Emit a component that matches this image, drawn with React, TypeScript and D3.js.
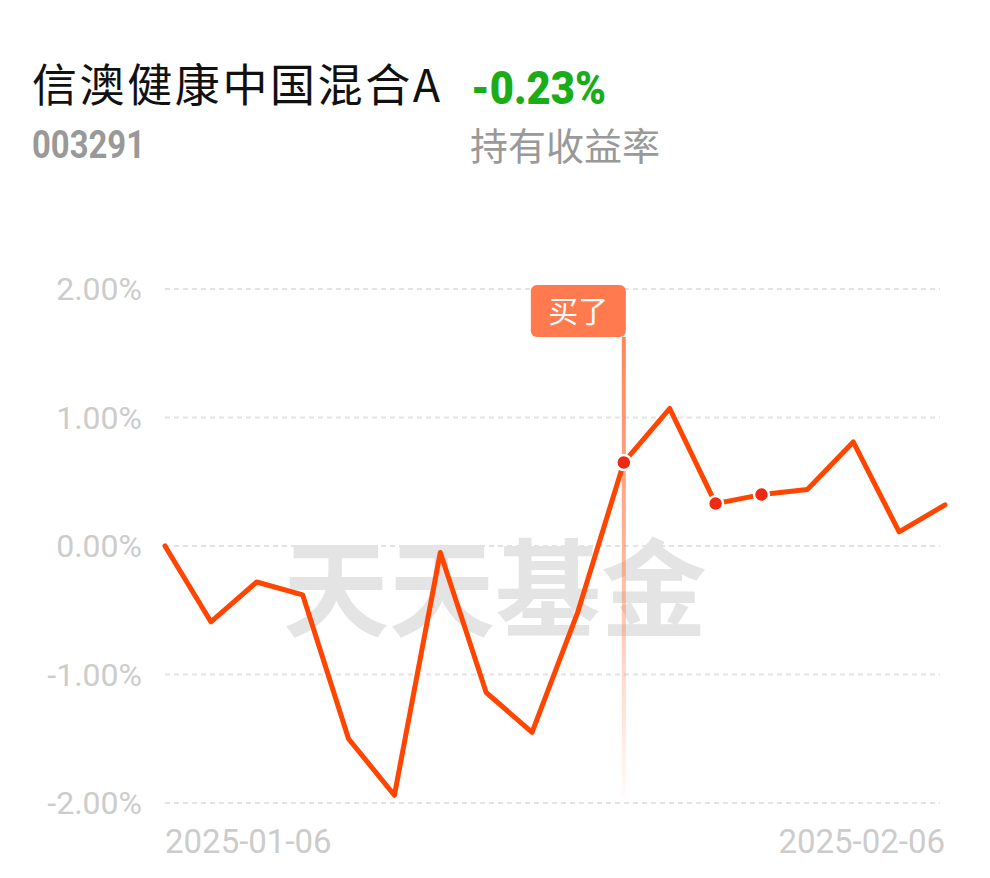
import React from "react";
import * as d3 from "d3";

const dates = [
  "2025-01-06", "2025-01-07", "2025-01-08", "2025-01-09", "2025-01-10",
  "2025-01-13", "2025-01-14", "2025-01-15", "2025-01-16", "2025-01-17",
  "2025-01-20", "2025-01-21", "2025-01-22", "2025-01-23", "2025-01-24",
  "2025-01-27", "2025-02-05", "2025-02-06",
];
const returns = [
  0.0, -0.59, -0.28, -0.38, -1.5, -1.94, -0.05, -1.14, -1.45, -0.51,
  0.65, 1.07, 0.33, 0.4, 0.44, 0.81, 0.11, 0.32,
];
const yTicks = [2, 1, 0, -1, -2];
const xTickLabels = ["2025-01-06", "2025-02-06"];
const buyDate = "2025-01-20";
const markerDates = ["2025-01-20", "2025-01-22", "2025-01-23"];

const fundName = "信澳健康中国混合A";
const fundCode = "003291";
const holdReturn = "-0.23%";
const holdLabel = "持有收益率";
const watermark = "天天基金";
const buyLabel = "买了";

const W = 990;
const H = 878;
const CJK = '"Noto Sans CJK SC", "Noto Sans", sans-serif';
const NUM = 'Roboto, "Noto Sans", sans-serif';

export default function App() {
  const x = d3.scalePoint<string>().domain(dates).range([165, 945]);
  const y = d3.scaleLinear().domain([-2, 2]).range([803, 289]);
  const line = d3
    .line<number>()
    .x((_, i) => x(dates[i]) as number)
    .y((d) => y(d));

  const buyX = x(buyDate) as number;
  const boxW = 95;
  const boxH = 52;
  const boxTop = y(2) - 4;

  return (
    <svg
      width={W}
      height={H}
      viewBox={`0 0 ${W} ${H}`}
      style={{ position: "absolute", left: 0, top: 0, background: "#fff" }}
    >
      <defs>
        <linearGradient id="buyGrad" x1="0" y1="0" x2="0" y2="1">
          <stop offset="0%" stopColor="#ff7f50" stopOpacity={0.95} />
          <stop offset="45%" stopColor="#ff7f50" stopOpacity={0.6} />
          <stop offset="100%" stopColor="#ff7f50" stopOpacity={0.03} />
        </linearGradient>
      </defs>

      {/* header */}
      <text x={32} y={102} fontFamily={CJK} fontSize={45} letterSpacing={2.6} fill="#111">
        {fundName}
      </text>
      <text
        x={471}
        y={104}
        fontFamily={NUM}
        fontWeight={900}
        fontSize={47}
        fill="#1aad19"
        textLength={135}
        lengthAdjust="spacingAndGlyphs"
      >
        {holdReturn}
      </text>
      <text
        x={32}
        y={158}
        fontFamily={NUM}
        fontWeight={700}
        fontSize={38}
        fill="#999"
        textLength={113}
        lengthAdjust="spacingAndGlyphs"
      >
        {fundCode}
      </text>
      <text x={470} y={160} fontFamily={CJK} fontSize={38} fill="#999">
        {holdLabel}
      </text>

      {/* watermark */}
      <text
        x={495}
        y={628}
        textAnchor="middle"
        fontFamily={CJK}
        fontWeight={700}
        fontSize={106}
        fill="#e4e4e4"
      >
        {watermark}
      </text>

      {/* grid */}
      {yTicks.map((t) => (
        <g key={t}>
          <line
            x1={165}
            x2={940}
            y1={y(t)}
            y2={y(t)}
            stroke="#e3e3e3"
            strokeWidth={2}
            strokeDasharray="5 4"
          />
          <text
            x={142}
            y={y(t) + 11}
            textAnchor="end"
            fontFamily={NUM}
            fontSize={32}
            fill="#cccccc"
          >
            {`${t.toFixed(2)}%`}
          </text>
        </g>
      ))}

      {/* x labels */}
      {xTickLabels.map((d, i) => (
        <text
          key={d}
          x={x(d) as number}
          y={853}
          textAnchor={i === 0 ? "start" : "end"}
          fontFamily={NUM}
          fontSize={33}
          fill="#cccccc"
        >
          {d}
        </text>
      ))}

      {/* buy marker line */}
      <rect
        x={buyX - 2}
        y={boxTop + boxH}
        width={4}
        height={y(-2) - 6 - (boxTop + boxH)}
        fill="url(#buyGrad)"
      />
      <rect
        x={buyX + 2 - boxW}
        y={boxTop}
        width={boxW}
        height={boxH}
        rx={6}
        fill="#ff7b4f"
      />
      <text
        x={buyX + 2 - boxW / 2}
        y={boxTop + 37}
        textAnchor="middle"
        fontFamily={CJK}
        fontSize={30}
        fill="#fff"
      >
        {buyLabel}
      </text>

      {/* series */}
      <path
        d={line(returns) || ""}
        fill="none"
        stroke="#ff4500"
        strokeWidth={5}
        strokeLinejoin="round"
        strokeLinecap="round"
      />
      {markerDates.map((d) => {
        const i = dates.indexOf(d);
        return (
          <circle
            key={d}
            cx={x(d) as number}
            cy={y(returns[i])}
            r={7.5}
            fill="#ee2a12"
            stroke="#fff"
            strokeWidth={2.5}
          />
        );
      })}
    </svg>
  );
}
